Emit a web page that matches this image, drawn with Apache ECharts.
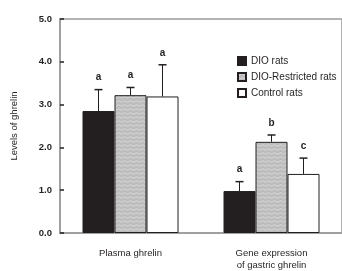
<!DOCTYPE html>
<html>
<head>
<meta charset="utf-8">
<script src="https://cdn.jsdelivr.net/npm/echarts@6/dist/echarts.min.js"></script>
<style>
  html, body { margin: 0; padding: 0; background: #fff; }
  #chart { width: 342px; height: 271px; }
</style>
</head>
<body>
<div id="chart"></div>
<script>
const CATEGORIES = ['Plasma ghrelin', 'Gene expression\nof gastric ghrelin']
const GROUPS = ['DIO rats', 'DIO-Restricted rats', 'Control rats']
const MEANS = [
  [2.85, 0.98],   // DIO
  [3.22, 2.13],   // DIO-Restricted
  [3.19, 1.38],   // Control
]
const ERR_TOP = [
  [3.35, 1.20],
  [3.40, 2.29],
  [3.93, 1.75],
]
const LETTERS = [
  ['a', 'a'],
  ['a', 'b'],
  ['a', 'c'],
]
const Y_TICKS = [0, 1, 2, 3, 4, 5]

// fine mottled grey texture for the restricted group
function wavyPattern() {
  const c = document.createElement('canvas')
  c.width = 6; c.height = 4
  const g = c.getContext('2d')
  g.fillStyle = '#bcbcbc'
  g.fillRect(0, 0, 6, 4)
  g.strokeStyle = '#d8d8d8'
  g.lineWidth = 1
  g.beginPath()
  g.moveTo(0, 1.5)
  g.quadraticCurveTo(1.5, 3, 3, 1.5)
  g.quadraticCurveTo(4.5, 0, 6, 1.5)
  g.stroke()
  return c
}

const FILLS = [
  '#231f20',
  { image: wavyPattern(), repeat: 'repeat' },
  '#ffffff',
]

const chart = echarts.init(document.getElementById('chart'), null, { renderer: 'canvas' })

const FONT = 'Liberation Sans'
const BAR_W = 32

const barSeries = GROUPS.map((name, i) => ({
  name,
  type: 'bar',
  barWidth: BAR_W,
  barGap: '0%',
  data: MEANS[i],
  itemStyle: { color: FILLS[i], borderColor: '#231f20', borderWidth: 1 },
  z: 2,
}))

// error bars + significance letters, drawn over each bar
const errSeries = GROUPS.map((name, i) => ({
  type: 'custom',
  name: name + ' err',
  z: 3,
  data: MEANS[i].map((m, j) => [j, m, ERR_TOP[i][j], LETTERS[i][j]]),
  renderItem: (params, api) => {
    const base = api.coord([api.value(0), api.value(1)])
    const top = api.coord([api.value(0), api.value(2)])
    const x = base[0] + (i - 1) * BAR_W
    return {
      type: 'group',
      children: [
        { type: 'line', shape: { x1: x, y1: base[1], x2: x, y2: top[1] },
          style: { stroke: '#231f20', lineWidth: 1 } },
        { type: 'line', shape: { x1: x - 4, y1: top[1], x2: x + 4, y2: top[1] },
          style: { stroke: '#231f20', lineWidth: 1.5 } },
        { type: 'text', x: x, y: top[1] - 7,
          style: { text: api.value(3), fill: '#231f20', font: 'bold 10px ' + FONT,
                   align: 'center', verticalAlign: 'bottom' } },
      ],
    }
  },
}))

chart.setOption({
  animation: false,
  backgroundColor: '#fff',
  grid: { left: 60, top: 19, width: 288, bottom: 37, show: true,
          borderColor: '#9a9a9a', borderWidth: 1.5 },
  legend: {
    data: GROUPS.map((name) => ({ name, icon: 'rect' })),
    orient: 'vertical', left: 237, top: 55, padding: 0,
    itemWidth: 8, itemHeight: 8, itemGap: 4, selectedMode: false,
    textStyle: { fontFamily: FONT, fontSize: 10, lineHeight: 12, color: '#231f20' },
  },
  xAxis: {
    type: 'category', data: CATEGORIES,
    axisLine: { lineStyle: { color: '#9a9a9a', width: 1.5 } },
    axisTick: { show: false },
    axisLabel: { margin: 14, fontFamily: FONT, fontSize: 9.5, color: '#231f20', lineHeight: 12 },
  },
  yAxis: {
    type: 'value', min: Y_TICKS[0], max: Y_TICKS[Y_TICKS.length - 1], interval: 1,
    name: 'Levels of ghrelin', nameLocation: 'middle', nameGap: 41,
    nameTextStyle: { fontFamily: FONT, fontSize: 9.5, color: '#231f20' },
    axisLine: { show: true, lineStyle: { color: '#9a9a9a', width: 1.5 } },
    axisTick: { show: true, inside: true, length: 4, lineStyle: { color: '#231f20', width: 1.5 } },
    axisLabel: { margin: 8, fontFamily: FONT, fontSize: 9.5, fontWeight: 'bold', color: '#231f20',
                 formatter: (v) => v.toFixed(1) },
    splitLine: { show: false },
  },
  series: [...barSeries, ...errSeries],
})
</script>
</body>
</html>
